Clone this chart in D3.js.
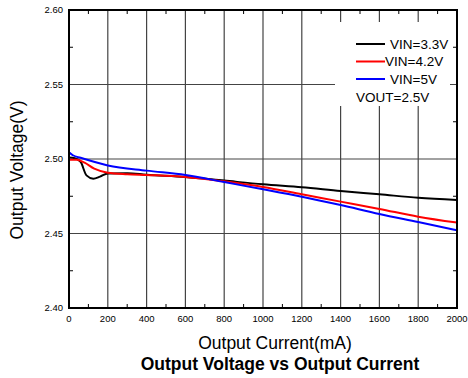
<!DOCTYPE html>
<html>
<head>
<meta charset="utf-8">
<script src="https://cdn.jsdelivr.net/npm/d3@7"></script>
<style>
body { margin: 0; background: #fff; }
text { font-family: "Liberation Sans", Arial, sans-serif; }
</style>
</head>
<body>
<script>
//chart data
var xTicks = [0, 200, 400, 600, 800, 1000, 1200, 1400, 1600, 1800, 2000];
var yTicks = [2.40, 2.45, 2.50, 2.55, 2.60];
var seriesNames = ["VIN=3.3V", "VIN=4.2V", "VIN=5V"];
var seriesColors = ["#000000", "#ff0000", "#0000ff"];

var vin33 = [[0,2.501],[30,2.5005],[60,2.498],[90,2.489],[125,2.4868],[160,2.4882],[200,2.4903],[300,2.4905],[400,2.4895],[600,2.488],[800,2.4855],[1000,2.483],[1200,2.481],[1400,2.4785],[1600,2.4763],[1800,2.474],[2000,2.4725]];
var vin42 = [[0,2.4995],[40,2.4995],[80,2.4975],[130,2.4935],[200,2.4908],[300,2.4898],[400,2.4893],[600,2.488],[800,2.485],[1000,2.4812],[1200,2.4763],[1400,2.4714],[1600,2.4665],[1800,2.4613],[2000,2.4573]];
var vin5 = [[0,2.5045],[20,2.5025],[60,2.5008],[200,2.4957],[400,2.4922],[600,2.4893],[800,2.4845],[1000,2.4797],[1200,2.4747],[1400,2.4691],[1600,2.4631],[1800,2.4577],[2000,2.4522]];

drawChart();

function drawChart(){
    var width = 468, height = 378;
    var pLeft = 69, pRight = 457, pTop = 10, pBottom = 308;

    var svg = d3.select("body").append("svg")
        .attr("width", width)
        .attr("height", height);

    var x = d3.scaleLinear().domain([0, 2000]).range([pLeft, pRight]);
    var y = d3.scaleLinear().domain([2.40, 2.60]).range([pBottom, pTop]);

    //gridlines
    svg.selectAll(".vgrid")
        .data(xTicks.slice(1, -1))
        .enter().append("line")
        .attr("x1", d => x(d)).attr("x2", d => x(d))
        .attr("y1", pTop).attr("y2", pBottom)
        .style("stroke", "#444").style("stroke-width", 1.2);

    svg.selectAll(".hgrid")
        .data(yTicks.slice(1, -1))
        .enter().append("line")
        .attr("x1", pLeft).attr("x2", pRight)
        .attr("y1", d => y(d)).attr("y2", d => y(d))
        .style("stroke", "#444").style("stroke-width", 1.2);

    //minor ticks inside the frame
    var minorX = d3.range(100, 2000, 200);
    var minorY = [2.425, 2.475, 2.525, 2.575];
    minorX.forEach(function(v){
        svg.append("line").attr("x1", x(v)).attr("x2", x(v)).attr("y1", pBottom).attr("y2", pBottom - 4).style("stroke", "#000");
        svg.append("line").attr("x1", x(v)).attr("x2", x(v)).attr("y1", pTop).attr("y2", pTop + 4).style("stroke", "#000");
    });
    minorY.forEach(function(v){
        svg.append("line").attr("x1", pLeft).attr("x2", pLeft + 4).attr("y1", y(v)).attr("y2", y(v)).style("stroke", "#000");
        svg.append("line").attr("x1", pRight).attr("x2", pRight - 4).attr("y1", y(v)).attr("y2", y(v)).style("stroke", "#000");
    });

    //legend background hides the grid
    svg.append("rect")
        .attr("x", 335).attr("y", 22)
        .attr("width", 115).attr("height", 84)
        .style("fill", "#fff");

    //curves
    var line = d3.line()
        .x(d => x(d[0]))
        .y(d => y(d[1]))
        .curve(d3.curveMonotoneX);

    [vin33, vin42, vin5].forEach(function(s, i){
        svg.append("path")
            .datum(s)
            .attr("d", line)
            .style("fill", "none")
            .style("stroke", seriesColors[i])
            .style("stroke-width", 2);
    });

    //frame
    svg.append("rect")
        .attr("x", pLeft).attr("y", pTop)
        .attr("width", pRight - pLeft).attr("height", pBottom - pTop)
        .style("fill", "none").style("stroke", "#000").style("stroke-width", 2);

    //tick labels
    svg.selectAll(".xlab")
        .data(xTicks)
        .enter().append("text")
        .attr("x", d => x(d)).attr("y", 322)
        .attr("text-anchor", "middle")
        .style("font-size", "9.5px")
        .text(d => d);

    svg.selectAll(".ylab")
        .data(yTicks)
        .enter().append("text")
        .attr("x", 63).attr("y", d => y(d) + 3)
        .attr("text-anchor", "end")
        .style("font-size", "9.5px")
        .text(d => d.toFixed(2));

    //legend
    var legendY = [44, 61.5, 79];
    var textX = [390, 385, 390];
    seriesNames.forEach(function(n, i){
        svg.append("line")
            .attr("x1", 356).attr("x2", 385)
            .attr("y1", legendY[i]).attr("y2", legendY[i])
            .style("stroke", seriesColors[i]).style("stroke-width", 2);
        svg.append("text")
            .attr("x", textX[i]).attr("y", legendY[i] + 4.5)
            .style("font-size", "13.5px")
            .text(n);
    });
    svg.append("text")
        .attr("x", 356).attr("y", 102)
        .style("font-size", "13.5px")
        .text("VOUT=2.5V");

    //axis titles
    svg.append("text")
        .attr("x", 275).attr("y", 349)
        .attr("text-anchor", "middle")
        .style("font-size", "17.5px")
        .text("Output Current(mA)");

    svg.append("text")
        .attr("transform", "translate(23,170) rotate(-90)")
        .attr("text-anchor", "middle")
        .style("font-size", "17.5px")
        .text("Output Voltage(V)");

    svg.append("text")
        .attr("x", 280).attr("y", 370)
        .attr("text-anchor", "middle")
        .style("font-size", "17.5px")
        .style("font-weight", "bold")
        .text("Output Voltage vs Output Current");
}
</script>
</body>
</html>
